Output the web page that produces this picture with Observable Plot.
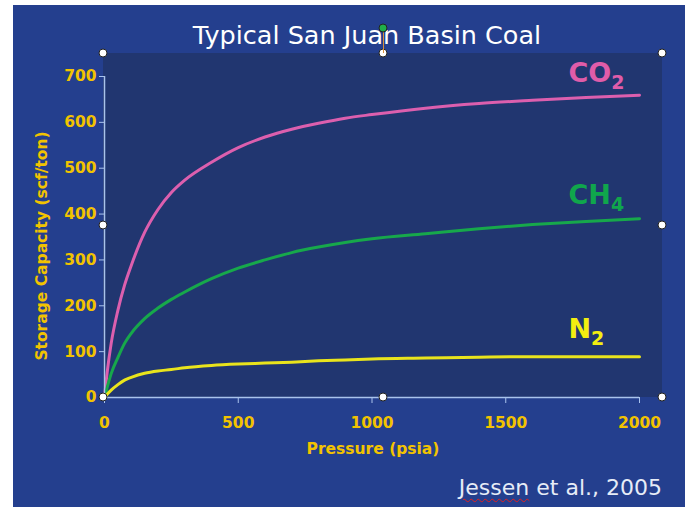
<!DOCTYPE html>
<html>
<head>
<meta charset="utf-8">
<script src="https://cdn.jsdelivr.net/npm/d3@7"></script>
<script src="https://cdn.jsdelivr.net/npm/@observablehq/plot@0.6"></script>
<style>
  html, body { margin: 0; padding: 0; background: #ffffff; }
  body { position: relative; width: 690px; height: 507px; overflow: hidden; }
  #panel { position: absolute; left: 13px; top: 5px; width: 672px; height: 502px; background: #243f8e; }
  #inner { position: absolute; left: 103px; top: 53px; width: 559px; height: 344px; background: #213670; }
  #chart { position: absolute; left: 0; top: 0; }
  #title { position: absolute; left: 367px; top: 35px; transform: translate(-50%, -50%);
           color: #ffffff; font-family: "DejaVu Sans", sans-serif; font-size: 25.5px; white-space: nowrap; }
  .axlabel { position: absolute; color: #f2c300; font-family: "DejaVu Sans", sans-serif; font-weight: bold;
             font-size: 15.5px; white-space: nowrap; transform: translate(-50%, -50%); }
  #ylabel { left: 42px; top: 246px; transform: translate(-50%, -50%) rotate(-90deg); }
  #xlabel { left: 373px; top: 449px; }
  #caption { position: absolute; right: 28px; top: 487px; transform: translateY(-50%);
             color: #e6ecf7; font-family: "DejaVu Sans", sans-serif; font-size: 22px; white-space: nowrap; }
  #caption .sp { text-decoration: underline wavy #e02020; text-decoration-thickness: 1px; text-underline-offset: 3px; }
  #handles { position: absolute; left: 103px; top: 53px; width: 559px; height: 344px; pointer-events: none; }
  .h { position: absolute; width: 7px; height: 7px; border-radius: 50%; background: #ffffff;
       border: 1.5px solid #222; transform: translate(-50%, -50%); }
  .rot { background: #1fae4a; }
  .stem { position: absolute; left: 50%; top: -25px; width: 1px; height: 25px; background: #d9903a; }
  #chart g[aria-label="x-axis tick"], #chart g[aria-label="y-axis tick"] { stroke: #a9c3ec; }
</style>
</head>
<body>
<div id="panel"></div>
<div id="inner"></div>
<div id="title">Typical San Juan Basin Coal</div>
<div id="chart"></div>
<div class="axlabel" id="ylabel">Storage Capacity (scf/ton)</div>
<div class="axlabel" id="xlabel">Pressure (psia)</div>
<div id="caption"><span class="sp">Jessen</span> et al., 2005</div>
<div id="handles"></div>
<script>
// ---- data ----
const gases = ["CO2", "CH4", "N2"];
const gasColors = ["#dc5fae", "#17a84b", "#e9e41c"];
const labelColors = ["#e05ca9", "#10a64c", "#f4ee10"];
const pressure = [0, 10, 25, 50, 75, 100, 150, 200, 250, 300, 400, 500, 600, 700, 800, 900, 1000, 1200, 1400, 1600, 1800, 2000];
const co2 = [0, 55, 118, 190, 245, 288, 360, 410, 447, 474, 513, 545, 568, 585, 598, 609, 617, 631, 641, 648, 654, 659];
const ch4 = [0, 22, 52, 87, 118, 140, 172, 195, 214, 230, 259, 282, 300, 316, 328, 338, 346, 357, 368, 377, 384, 390];
const n2  = [0, 7, 16, 28, 38, 44, 53, 58, 61, 65, 70, 73, 75, 77, 80, 82, 84, 86, 88, 89, 89, 89];
const xTicks = [0, 500, 1000, 1500, 2000];
const yTicks = [0, 100, 200, 300, 400, 500, 600, 700];

const series = {CO2: co2, CH4: ch4, N2: n2};
const rows = gases.flatMap(g => pressure.map((p, i) => ({gas: g, pressure: p, value: series[g][i]})));

const gold = "#f2c300";
const labelDy = {CO2: -22, CH4: -23, N2: -27};

const labelMarks = gases.map((g, i) =>
  Plot.text(rows.filter(d => d.gas === g), Plot.selectLast({
    x: "pressure", y: "value", text: "gas",
    textAnchor: "start", dx: -71, dy: labelDy[g],
    fill: labelColors[i], fontSize: 27, fontWeight: "bold",
    fontFamily: "DejaVu Sans, sans-serif"
  }))
);

const chart = Plot.plot({
  width: 690,
  height: 507,
  marginLeft: 104,
  marginRight: 51,
  marginTop: 76,
  marginBottom: 110,
  style: {background: "transparent", color: gold, fontSize: "15.5px", fontWeight: "bold", fontFamily: "DejaVu Sans, sans-serif"},
  x: {domain: [0, 2000], label: null},
  y: {domain: [0, 700], label: null},
  color: {domain: gases, range: gasColors},
  marks: [
    Plot.line(rows, {x: "pressure", y: "value", stroke: "gas", strokeWidth: 3, curve: "monotone-x"}),
    Plot.ruleY([0], {stroke: "#a9c3ec", strokeWidth: 1.5}),
    Plot.ruleX([0], {stroke: "#a9c3ec", strokeWidth: 1.5}),
    Plot.axisX({ticks: xTicks, tickSize: 6, tickPadding: 13, tickFormat: "d", label: null, fill: gold}),
    Plot.axisY({ticks: yTicks, tickSize: 5, tickPadding: 3, tickFormat: "d", label: null, fill: gold}),
    ...labelMarks
  ]
});
document.getElementById("chart").appendChild(chart);

// subscripts in series labels (CO2 -> CO₂ style)
chart.querySelectorAll("text").forEach(t => {
  const s = t.textContent;
  if (!gases.includes(s)) return;
  const main = s.slice(0, -1), sub = s.slice(-1);
  while (t.firstChild) t.removeChild(t.firstChild);
  t.appendChild(document.createTextNode(main));
  const ts = document.createElementNS("http://www.w3.org/2000/svg", "tspan");
  ts.setAttribute("dy", "7");
  ts.setAttribute("font-size", "19");
  ts.textContent = sub;
  t.appendChild(ts);
});

// selection handles around the chart area
const hb = document.getElementById("handles");
[[0,0],[50,0],[100,0],[0,50],[100,50],[0,100],[50,100],[100,100]].forEach(([px, py]) => {
  const d = document.createElement("div");
  d.className = "h";
  d.style.left = px + "%";
  d.style.top = py + "%";
  hb.appendChild(d);
});
const stem = document.createElement("div");
stem.className = "stem";
hb.appendChild(stem);
const rot = document.createElement("div");
rot.className = "h rot";
rot.style.left = "50%";
rot.style.top = "-25px";
hb.appendChild(rot);
</script>
</body>
</html>
